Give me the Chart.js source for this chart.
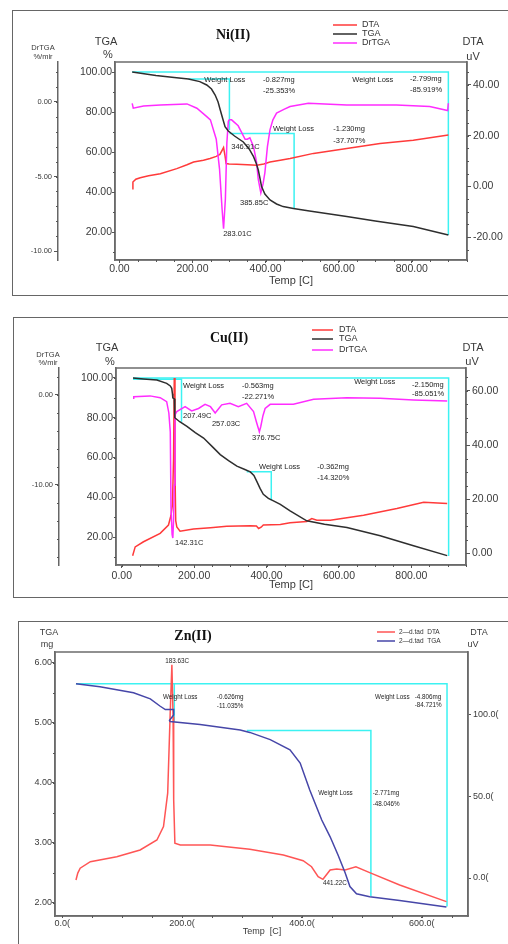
<!DOCTYPE html>
<html>
<head>
<meta charset="utf-8">
<script src="https://cdn.jsdelivr.net/npm/chart.js@4.4.1/dist/chart.umd.min.js"></script>
<style>
  html, body { margin: 0; padding: 0; background: #fff; overflow: hidden; width: 508px; height: 944px; }
  .frame { position: absolute; border: 1.5px solid #666; box-sizing: border-box; }
  canvas { position: absolute; left: 0; }
</style>
</head>
<body>
<div class="frame" style="left:12px;top:10px;width:520px;height:286px"></div>
<div class="frame" style="left:13px;top:317px;width:520px;height:281px"></div>
<div class="frame" style="left:18px;top:621px;width:520px;height:400px"></div>
<canvas id="ni" width="508" height="300" style="top:0px"></canvas>
<canvas id="cu" width="508" height="300" style="top:305px"></canvas>
<canvas id="zn" width="508" height="334" style="top:610px"></canvas>
<script>
const FONT = '"Liberation Sans", Arial, sans-serif';
const SERIF = '"Liberation Serif", "Times New Roman", serif';

// ---------- Ni(II) ----------
const niTgaT = [35, 100, 150, 189, 220, 239, 252, 262, 270, 276, 283, 289, 298, 315, 339, 355, 367, 375, 380, 385, 389, 398, 412, 430, 448, 476, 520, 622, 700, 804, 900];
const niTga  = [100, 98.3, 97.3, 96.5, 95.2, 93.5, 91.5, 88.5, 85, 81, 76.5, 72.7, 70.5, 68, 65, 61.5, 57.7, 54, 51, 46.5, 42.7, 39, 36, 34, 32.7, 31.8, 30.5, 27.7, 25.5, 22.7, 18.5];
const niDtaT = [35, 37, 45, 57, 80, 112, 157, 185, 203, 230, 248, 265, 275, 285, 289, 292, 300, 321, 350, 376, 395, 412, 440, 467, 531, 622, 713, 804, 900];
const niDta  = [-0.9, 1.7, 2.8, 3.4, 4.2, 5, 7, 8.5, 9.6, 10.3, 11, 11.8, 12.6, 15.3, 12, 9, 8.8, 8.7, 8.5, 8.3, 8.8, 9.6, 10.3, 11, 13, 14.9, 16.9, 18.2, 20.2];
const niDrT  = [35, 38, 66, 112, 185, 212, 239, 249, 265, 274, 281, 285, 290, 294, 298, 301, 307, 325, 344, 350, 357, 367, 375, 380, 387, 393, 398, 405, 412, 420, 430, 450, 467, 517, 622, 758, 849, 898, 900];
const niDr   = [-0.09, -0.42, -0.27, -0.2, -0.13, -0.42, -0.98, -1.2, -2.5, -4.5, -7.2, -8.5, -6.5, -2.75, -1.3, -1.2, -1.2, -1.6, -2.5, -2.5, -2.4, -3, -4, -5.2, -6.1, -5.5, -4.75, -3, -1.87, -1.2, -0.75, -0.5, -0.31, -0.09, -0.2, -0.2, -0.31, -0.58, -0.09];
const niLossT = [[35, 900, 900], [189, 301, 301], [301, 478, 478]];
const niLossV = [[100, 100, 18.5], [96.5, 96.5, 71], [69.3, 69.3, 31.8]];
const niNotes = [[232, 96, 'Weight Loss'], [393, 96, '-0.827mg'], [393, 90.5, '-25.353%'],
  [637, 96, 'Weight Loss'], [795, 96.5, '-2.799mg'], [795, 91, '-85.919%'],
  [420, 71.5, 'Weight Loss'], [585, 71.5, '-1.230mg'], [585, 65.5, '-37.707%'],
  [306, 62.5, '346.91C'], [330, 34.5, '385.85C'], [284, 19, '283.01C']];

// ---------- Cu(II) ----------
const cuTgaT = [31, 60, 97, 124, 134, 138, 140, 141, 145, 146, 147, 160, 180, 203, 226, 250, 272, 295, 318, 340, 355, 365, 373, 382, 391, 405, 419, 438, 465, 511, 560, 622, 714, 806, 899];
const cuTga  = [100, 99.5, 99, 97.3, 96, 94.8, 92, 90, 89.5, 85, 80, 78, 75.7, 72.5, 69.8, 65.5, 61.5, 58.5, 55.7, 54, 52.8, 51, 48, 44.5, 41.5, 39.5, 38.2, 36.5, 33.2, 28.2, 26.5, 24.8, 20.7, 15.7, 10.7];
const cuDtaT = [30, 37, 60, 106, 129, 136, 140, 143, 145, 147, 149, 152, 161, 198, 245, 290, 355, 372, 378, 385, 391, 438, 465, 511, 525, 539, 576, 668, 760, 834, 899];
const cuDta  = [-1, 2.3, 4.2, 7.3, 10.4, 14, 18, 35, 64.8, 30, 12, 9.7, 8.1, 8.9, 9.4, 9.9, 10.1, 10, 9.1, 9.6, 10.4, 10.6, 11.2, 11.7, 12.8, 12.2, 12.2, 14, 16.5, 18.8, 18.4];
const cuDrT  = [31, 33, 78, 106, 124, 130, 134, 136, 139, 141, 143, 145, 147, 152, 175, 193, 212, 230, 245, 258, 268, 276, 299, 322, 345, 364, 372, 378, 380, 384, 390, 396, 410, 474, 530, 622, 714, 806, 899];
const cuDr   = [-0.37, -0.2, -0.1, -0.3, -0.74, -2, -4.1, -12.6, -15.5, -15.9, -14, -10, -2.2, -1.85, -1.3, -1.78, -1.5, -1.04, -1.3, -2, -1.5, -1.1, -0.93, -1.3, -0.93, -1.85, -3, -3.8, -4.1, -3.5, -2.3, -1.5, -1.04, -1.04, -0.48, -0.3, -0.37, -0.56, -0.67];
const cuLossT = [[31, 903, 903], [31, 165, 165], [345, 413, 413]];
const cuLossV = [[100, 100, 10.5], [99.3, 99.3, 78], [52.8, 52.8, 38.5]];
const cuNotes = [[169, 96, 'Weight Loss'], [332, 96, '-0.563mg'], [332, 90.5, '-22.271%'],
  [642, 98, 'Weight Loss'], [802, 96.5, '-2.150mg'], [802, 92, '-85.051%'],
  [379, 55.5, 'Weight Loss'], [540, 55.5, '-0.362mg'], [540, 50, '-14.320%'],
  [169, 81, '207.49C'], [249, 77, '257.03C'], [360, 70, '376.75C'], [147, 17, '142.31C']];

// ---------- Zn(II) ----------
const znTgaT = [23, 63, 119, 147, 163, 172, 186, 186, 179, 180, 230, 297, 313, 347, 380, 397, 413, 433, 447, 460, 472, 480, 491, 513, 563, 641];
const znTga  = [5.65, 5.6, 5.5, 5.4, 5.28, 5.22, 5.22, 5.13, 5.04, 5.02, 4.97, 4.88, 4.84, 4.72, 4.55, 4.33, 3.88, 3.38, 3.1, 2.8, 2.5, 2.27, 2.15, 2.1, 2.04, 1.93];
const znDtaT = [23, 26, 30, 47, 91, 130, 158, 169, 176, 180, 183, 185, 186, 188, 197, 247, 274, 313, 330, 369, 402, 416, 427, 435, 447, 458, 472, 490, 513, 563, 641];
const znDta  = [-1.2, 3, 6, 10, 13, 17.2, 23.3, 31.5, 52, 99, 130.7, 99, 48, 21.3, 20.2, 20.2, 19.2, 17.6, 16.6, 14.1, 10.6, 6.9, 0.8, -0.8, 4.9, 5.5, 4.9, 6.9, 3.3, -4.3, -14.5];
const znLossT = [[23, 642, 642], [187, 187], [308, 515, 515]];
const znLossV = [[5.65, 5.65, 1.94], [5.65, 5.02], [4.87, 4.87, 2.11]];
const znNotes = [[172, 6.03, '183.63C'], [168, 5.42, 'Weight Loss'], [258, 5.42, '-0.626mg'], [258, 5.27, '-11.035%'],
  [522, 5.42, 'Weight Loss'], [588, 5.42, '-4.806mg'], [588, 5.3, '-84.721%'],
  [427, 3.82, 'Weight Loss'], [518, 3.82, '-2.771mg'], [518, 3.65, '-48.046%'], [435, 2.33, '441.22C']];

const tempTicks = [0, 200, 400, 600, 800];
const pctTicks = [20, 40, 60, 80, 100];

const RED = '#ff3a3a', DARK = '#2e2e2e', MAG = '#ff2cff', CYAN = '#3cf2f2';

function series(ts, vs, axis, color, w) {
  return { data: ts.map((t, i) => ({ x: t, y: vs[i] })), yAxisID: axis, borderColor: color,
    borderWidth: w || 1.5, showLine: true, pointRadius: 0, tension: 0, fill: false };
}
function boxes(tt, vv) {
  return tt.map((ts, i) => series(ts, vv[i], 'tga', CYAN, 1.5));
}

function xAxis(o) {
  return {
    type: 'linear', position: 'bottom', min: o.min, max: o.max,
    afterBuildTicks: s => { s.ticks = o.ticks.map(v => ({ value: v })); },
    afterFit: s => { s.height = o.height; },
    ticks: { callback: o.fmt, font: { size: o.size, family: FONT }, color: '#3a3a3a', padding: o.pad, maxRotation: 0, autoSkip: false },
    grid: { drawOnChartArea: false, tickLength: o.tick, color: '#555' },
    border: { display: true, color: '#666', width: 1.5 }
  };
}
function yAxis(o) {
  return {
    type: 'linear', position: o.pos, min: o.min, max: o.max, weight: o.weight || 0,
    afterBuildTicks: s => { s.ticks = o.ticks.map(v => ({ value: v })); },
    afterFit: s => { s.width = o.width; },
    ticks: { callback: o.fmt, font: { size: o.size, family: FONT }, color: '#3a3a3a', padding: o.pad, autoSkip: false },
    grid: { drawOnChartArea: false, tickLength: o.tick, color: '#555' },
    border: { display: true, color: '#666', width: 1.5 }
  };
}

function extras(e) {
  return {
    id: 'extras',
    afterDraw(chart) {
      const ctx = chart.ctx, a = chart.chartArea, sx = chart.scales.x, st = chart.scales.tga;
      ctx.save();
      ctx.strokeStyle = '#6c6c6c'; ctx.lineWidth = 1.5;
      ctx.strokeRect(a.left, a.top, a.right - a.left, a.bottom - a.top);
      // minor ticks
      ctx.strokeStyle = '#555'; ctx.lineWidth = 1;
      e.minor.forEach(([id, step]) => {
        const s = chart.scales[id];
        ctx.beginPath();
        for (let i = Math.ceil(s.min / step); i * step <= s.max; i++) {
          const p = Math.round(s.getPixelForValue(i * step)) + 0.5;
          if (s.isHorizontal()) { ctx.moveTo(p, a.bottom); ctx.lineTo(p, a.bottom + 2); }
          else if (s.position === 'left') { ctx.moveTo(s.right, p); ctx.lineTo(s.right - 2, p); }
          else { ctx.moveTo(s.left, p); ctx.lineTo(s.left + 2, p); }
        }
        ctx.stroke();
      });
      // weight loss / peak notes
      ctx.font = e.noteFont; ctx.fillStyle = '#1e1e1e';
      ctx.textAlign = 'left'; ctx.textBaseline = 'middle';
      e.notes.forEach(([t, v, txt]) => ctx.fillText(txt, sx.getPixelForValue(t), st.getPixelForValue(v)));
      // captions
      e.captions.forEach(([txt, x, y, font, color]) => {
        ctx.font = font; ctx.fillStyle = color || '#3a3a3a'; ctx.textAlign = 'center';
        ctx.fillText(txt, x, y - e.top);
      });
      // legend
      const L = e.legend;
      ctx.font = L.font; ctx.textAlign = 'left';
      L.items.forEach(([y, color, txt]) => {
        ctx.strokeStyle = color; ctx.lineWidth = 1.5;
        ctx.beginPath(); ctx.moveTo(L.x1, y - e.top); ctx.lineTo(L.x2, y - e.top); ctx.stroke();
        ctx.fillStyle = '#333'; ctx.fillText(txt, L.tx, y - e.top);
      });
      ctx.restore();
    }
  };
}

const baseOpts = { responsive: false, animation: false, events: [],
  plugins: { legend: { display: false }, tooltip: { enabled: false } } };
const f2 = v => v.toFixed(2);
const small = '7.5px ' + FONT, big = '11px ' + FONT;

// Ni(II)
new Chart(document.getElementById('ni'), {
  type: 'scatter',
  data: { datasets: [
    series(niTgaT, niTga, 'tga', DARK), series(niDrT, niDr, 'dr', MAG), series(niDtaT, niDta, 'dta', RED),
    ...boxes(niLossT, niLossV)] },
  options: { ...baseOpts,
    layout: { padding: { top: 62, left: 0, right: 0, bottom: 0 } },
    scales: {
      x: xAxis({ min: -12, max: 951, ticks: tempTicks, fmt: f2, height: 40, size: 10.5, pad: 0, tick: 3 }),
      tga: yAxis({ pos: 'left', weight: 0, min: 6, max: 105, ticks: pctTicks, fmt: f2, width: 57, size: 10.5, pad: 0, tick: 3 }),
      dr: yAxis({ pos: 'left', weight: 1, min: -10.6, max: 2.68, ticks: [-10, -5, 0], fmt: f2, width: 58, size: 7.5, pad: 2, tick: 4 }),
      dta: yAxis({ pos: 'right', min: -29, max: 49, ticks: [-20, 0, 20, 40], fmt: f2, width: 41, size: 10.5, pad: 2, tick: 4 })
    } },
  plugins: [extras({ top: 0, noteFont: small, notes: niNotes,
    minor: [['x', 50], ['tga', 10], ['dr', 1], ['dta', 5]],
    captions: [['Ni(II)', 233, 35, 'bold 14px ' + SERIF, '#111'], ['TGA', 106, 42, big], ['%', 108, 55, big],
      ['DrTGA', 43, 48, small], ['%/mir', 43, 57, small], ['DTA', 473, 42, big], ['uV', 473, 57, big],
      ['Temp [C]', 291, 281, big]],
    legend: { x1: 333, x2: 357, tx: 362, font: '9px ' + FONT,
      items: [[25, RED, 'DTA'], [34, DARK, 'TGA'], [43, MAG, 'DrTGA']] } })]
});

// Cu(II)
new Chart(document.getElementById('cu'), {
  type: 'scatter',
  data: { datasets: [
    series(cuTgaT, cuTga, 'tga', DARK), series(cuDrT, cuDr, 'dr', MAG), series(cuDtaT, cuDta, 'dta', RED),
    ...boxes(cuLossT, cuLossV)] },
  options: { ...baseOpts,
    layout: { padding: { top: 63, left: 0, right: 0, bottom: 0 } },
    scales: {
      x: xAxis({ min: -16, max: 951, ticks: tempTicks, fmt: f2, height: 40, size: 10.5, pad: 1.5, tick: 3 }),
      tga: yAxis({ pos: 'left', weight: 0, min: 6, max: 105, ticks: pctTicks, fmt: f2, width: 57, size: 10.5, pad: 0, tick: 3 }),
      dr: yAxis({ pos: 'left', weight: 1, min: -18.9, max: 3, ticks: [-10, 0], fmt: f2, width: 59, size: 7.5, pad: 2, tick: 4 }),
      dta: yAxis({ pos: 'right', min: -4.4, max: 68.5, ticks: [0, 20, 40, 60], fmt: f2, width: 42, size: 10.5, pad: 2, tick: 4 })
    } },
  plugins: [extras({ top: 305, noteFont: small, notes: cuNotes,
    minor: [['x', 50], ['tga', 10], ['dr', 2], ['dta', 5]],
    captions: [['Cu(II)', 229, 338, 'bold 14px ' + SERIF, '#111'], ['TGA', 107, 348, big], ['%', 110, 362, big],
      ['DrTGA', 48, 355, small], ['%/mir', 48, 363, small], ['DTA', 473, 348, big], ['uV', 472, 362, big],
      ['Temp [C]', 291, 585, big]],
    legend: { x1: 312, x2: 333, tx: 339, font: '9px ' + FONT,
      items: [[330, RED, 'DTA'], [339, DARK, 'TGA'], [350, MAG, 'DrTGA']] } })]
});

// Zn(II)
const fz = v => v.toFixed(1) + '(';
new Chart(document.getElementById('zn'), {
  type: 'scatter',
  data: { datasets: [
    series(znTgaT, znTga, 'tga', '#4646a8'), series(znDtaT, znDta, 'dta', '#ff5555'),
    ...boxes(znLossT, znLossV)] },
  options: { ...baseOpts,
    layout: { padding: { top: 42, left: 0, right: 0, bottom: 0 } },
    scales: {
      x: xAxis({ min: -12, max: 677, ticks: [0, 200, 400, 600], fmt: fz, height: 28, size: 9, pad: 0, tick: 2 }),
      tga: yAxis({ pos: 'left', min: 1.78, max: 6.18, ticks: [2, 3, 4, 5, 6], fmt: f2, width: 55, size: 9, pad: 0, tick: 3 }),
      dta: yAxis({ pos: 'right', min: -23.3, max: 138.6, ticks: [0, 50, 100], fmt: fz, width: 40, size: 9, pad: 2, tick: 3 })
    } },
  plugins: [extras({ top: 610, noteFont: '6.3px ' + FONT, notes: znNotes,
    minor: [['x', 50], ['tga', 0.5]],
    captions: [['Zn(II)', 193, 636, 'bold 14px ' + SERIF, '#111'], ['TGA', 49, 633, '9px ' + FONT], ['mg', 47, 645, '9px ' + FONT],
      ['DTA', 479, 633, '9px ' + FONT], ['uV', 473, 645, '9px ' + FONT], ['Temp  [C]', 262, 932, '9px ' + FONT]],
    legend: { x1: 377, x2: 395, tx: 399, font: '6.5px ' + FONT,
      items: [[632, '#ff5555', '2—d.tad  DTA'], [641, '#4646a8', '2—d.tad  TGA']] } })]
});
</script>
</body>
</html>
